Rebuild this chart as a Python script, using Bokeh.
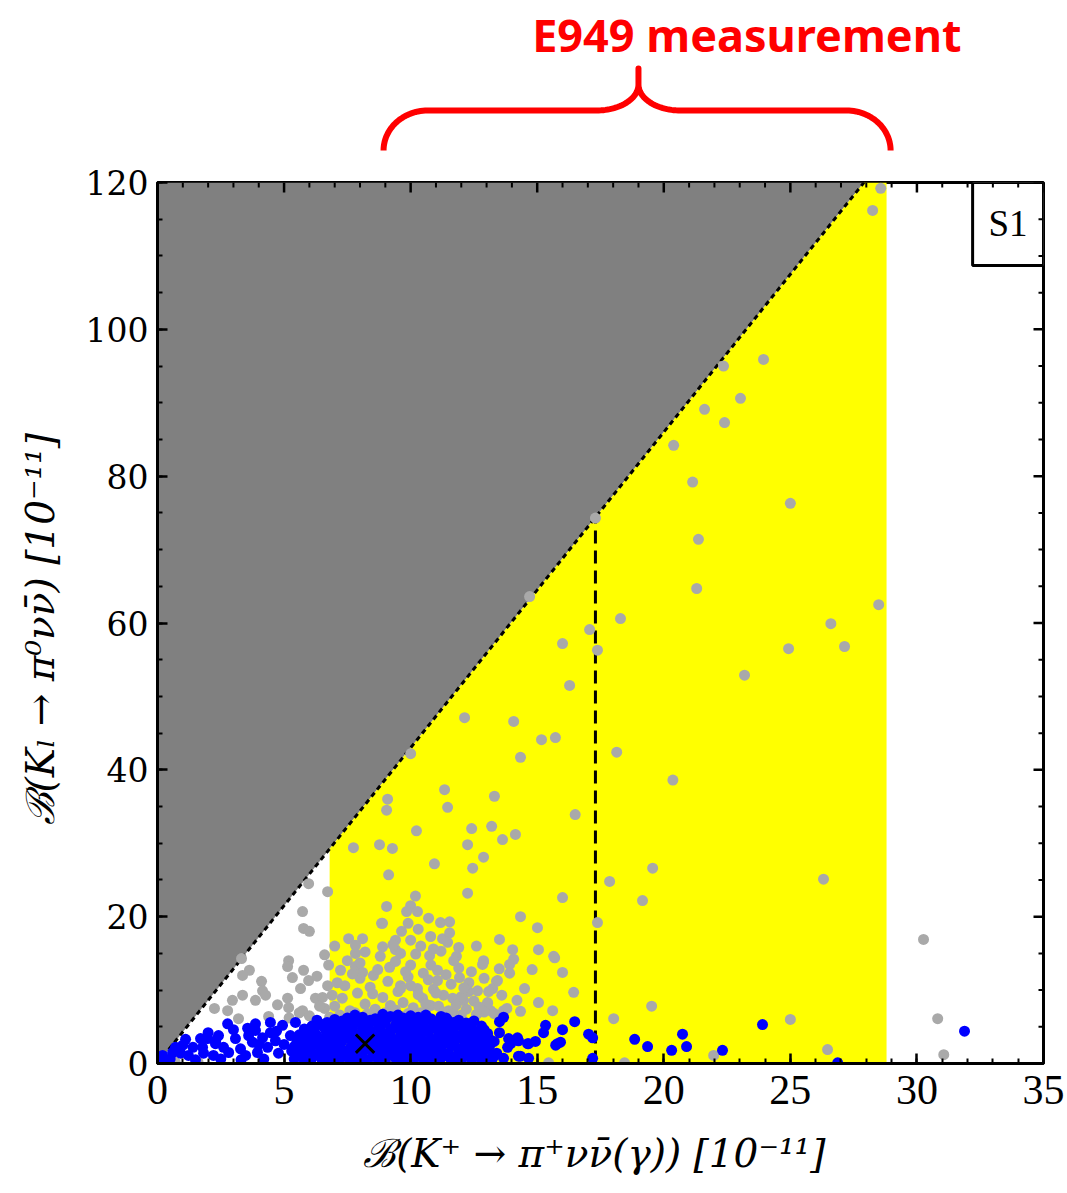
import numpy as np
from bokeh.plotting import figure
from bokeh.layouts import column
from bokeh.models import Range1d, FixedTicker
from bokeh.core.properties import value
from bokeh.embed import file_html
from bokeh.resources import INLINE

# ---------------- data ----------------
gn_slope = 4.3                 # Grossman-Nir bound  B(KL) < 4.3 B(K+)
e949 = [6.8, 17.3, 28.8]       # lower, central, upper  [1e-11]
sm_point = [8.2, 2.7]
x_ticks = [0, 5, 10, 15, 20, 25, 30, 35]
y_ticks = [0, 20, 40, 60, 80, 100, 120]

gray_upper = [
    (28.57, 119.2), (28.25, 116.2), (23.94, 95.9), (22.36, 95.0), (23.03, 90.6),
    (21.61, 89.1), (22.40, 87.3), (20.39, 84.2), (21.14, 79.2), (25.0, 76.3),
    (21.37, 71.4), (21.30, 64.7), (28.49, 62.5), (26.6, 59.9), (24.93, 56.5),
    (27.14, 56.8), (23.19, 52.9), (18.29, 60.6), (17.07, 59.1), (16.0, 57.2),
    (17.38, 56.3), (16.28, 51.5), (17.3, 74.3), (14.7, 63.6), (12.13, 47.1),
    (14.07, 46.6), (15.17, 44.1), (15.72, 44.4), (14.34, 41.7), (10.0, 42.2),
    (18.14, 42.4), (20.36, 38.6), (11.34, 37.3), (13.31, 36.4), (9.09, 36.0),
    (11.46, 34.9), (9.05, 34.5), (16.5, 33.9), (10.23, 31.7), (12.41, 32.0),
    (13.2, 32.3), (13.63, 30.5), (14.14, 31.2), (7.74, 29.4), (8.77, 29.8),
    (9.28, 29.3), (12.25, 29.8), (12.88, 28.1), (10.94, 27.2), (9.13, 25.7),
    (12.45, 26.6), (19.56, 26.6), (17.86, 24.8), (26.31, 25.1), (19.16, 22.2),
    (16.0, 22.6), (14.34, 20.0), (15.01, 18.5), (17.38, 19.2), (30.26, 16.9),
    (30.82, 6.1), (31.06, 1.2), (25.0, 6.0), (26.47, 1.9), (21.97, 1.1),
    (19.52, 7.8), (18.02, 6.1), (18.45, 0.1), (15.45, 0.1),
]

gray_mid = [
    (13.51, 16.9), (14.03, 15.5), (15.05, 15.5), (15.69, 14.4), (14.07, 14.2),
    (12.88, 13.8), (13.91, 13.5), (13.91, 12.3), (16.0, 12.4), (16.44, 9.7),
    (15.05, 8.3), (14.34, 7.1), (15.61, 7.2), (13.39, 11.2), (13.24, 10.2),
    (13.04, 8.2), (10.19, 22.8), (12.25, 23.2), (9.05, 21.4), (10.0, 21.5),
    (9.84, 20.7), (10.27, 20.7), (10.71, 19.8), (8.89, 19.1), (11.18, 19.2),
    (11.54, 19.3), (9.64, 18.0), (10.79, 17.3), (11.26, 17.0), (11.54, 17.8),
    (10.0, 16.8), (9.4, 16.8), (11.46, 16.5), (9.4, 15.5), (8.89, 15.9),
    (10.75, 14.7), (11.81, 14.6), (12.88, 14.0), (15.65, 14.6), (12.84, 13.5),
    (11.06, 12.7), (10.0, 13.4), (9.17, 13.1), (11.93, 11.7), (13.43, 11.3),
    (11.06, 11.3), (10.27, 10.2), (10.47, 8.9), (9.6, 10.6), (12.64, 9.9),
    (12.29, 9.8), (13.08, 9.8), (11.66, 8.9), (12.09, 8.6), (13.04, 8.3),
    (13.16, 7.2), (13.67, 7.2), (11.5, 7.2), (10.79, 7.9),
]

gray_white = [
    (5.97, 24.5), (6.72, 23.4), (5.73, 20.7), (5.77, 18.4), (6.0, 18.0),
    (7.55, 17.0), (8.1, 17.0), (8.85, 19.1), (7.82, 16.1), (7.82, 15.0),
    (5.18, 14.0), (5.14, 13.2), (3.63, 12.7), (3.36, 12.0), (5.77, 12.7),
    (6.76, 13.4), (7.23, 12.7), (7.82, 13.2), (8.1, 12.4), (8.53, 12.0),
    (5.33, 11.7), (5.97, 11.3), (4.11, 11.2), (6.72, 10.6), (4.15, 9.9),
    (5.65, 10.2), (3.36, 9.3), (4.27, 9.3), (2.96, 8.6), (5.14, 8.9),
    (6.24, 8.9), (6.52, 9.0), (3.87, 8.6), (4.74, 8.0), (5.18, 7.6),
    (5.73, 7.2), (2.25, 7.5), (2.77, 7.2), (3.2, 6.1), (4.39, 6.4),
    (3.32, 14.3), (0.7, 0.2), (1.6, 0.2), (5.9, 0.3), (12.3, 0.2),
]

gray_band = [
    (7.0, 7.8), (7.3, 8.9), (7.6, 7.2), (7.9, 9.6), (8.2, 8.1), (8.4, 10.4),
    (8.6, 7.4), (8.9, 9.0), (9.1, 11.2), (9.2, 7.9), (9.5, 9.8), (9.7, 8.3),
    (9.9, 11.8), (10.1, 7.6), (10.3, 9.4), (10.5, 12.3), (10.6, 8.1), (10.9, 10.1),
    (11.1, 7.8), (11.3, 9.3), (11.6, 10.8), (11.8, 8.0), (12.0, 9.1), (12.2, 7.4),
    (12.5, 8.5), (12.7, 7.7), (7.4, 10.6), (8.0, 11.6), (8.7, 12.8), (9.4, 13.9),
    (9.8, 12.5), (10.2, 14.9), (10.8, 13.4), (11.4, 12.1), (11.9, 13.0), (12.3, 11.0),
    (6.9, 9.3), (6.6, 7.5), (8.3, 6.8), (9.0, 6.9), (10.4, 6.9), (11.7, 6.8),
    (12.9, 7.0), (7.7, 12.2), (8.8, 14.6), (9.3, 16.2), (10.0, 10.6), (10.7, 11.4),
    (11.2, 15.3), (8.5, 9.5), (9.6, 10.2), (11.0, 9.6), (12.1, 10.3),
    (5.2, 6.2), (5.6, 6.9), (6.0, 6.5), (6.4, 7.8), (6.8, 6.3), (7.2, 6.6),
    (7.8, 6.9), (8.6, 6.6), (9.4, 7.3), (9.9, 6.8), (10.6, 6.7), (11.3, 7.0),
    (12.0, 6.6), (12.6, 6.7), (13.3, 6.8), (13.8, 7.5), (14.2, 8.6), (13.6, 9.3),
    (7.1, 11.0), (6.3, 11.9), (7.5, 14.0), (8.2, 15.2), (8.0, 13.7), (9.6, 15.0),
    (10.4, 16.0), (10.9, 15.6), (11.7, 14.0), (12.4, 12.5), (12.9, 11.6), (13.5, 12.9),
    (14.5, 10.2), (14.8, 12.8), (10.3, 18.3), (9.9, 19.1), (11.9, 15.8), (12.6, 16.0),
    (7.0, 16.0), (6.6, 14.8),
]

blue_core = [
    (5.4, 0.6), (5.8, 0.4), (6.1, 0.7), (6.5, 0.5), (6.9, 0.3), (7.2, 0.6), (7.6, 0.5),
    (7.9, 0.8), (8.3, 0.4), (8.7, 0.6), (9.0, 0.3), (9.4, 0.7), (9.8, 0.5), (10.1, 0.4),
    (10.5, 0.6), (10.9, 0.3), (11.2, 0.7), (11.6, 0.5), (12.0, 0.4), (12.4, 0.6),
    (12.8, 0.5), (13.2, 0.4),
    (5.5, 1.1), (5.9, 1.0), (6.3, 1.2), (6.7, 0.9), (7.0, 1.1), (7.4, 1.0), (7.8, 1.2),
    (8.1, 0.9), (8.5, 1.1), (8.8, 1.0), (9.2, 1.2), (9.6, 0.9), (9.9, 1.1), (10.3, 1.0),
    (10.7, 1.2), (11.0, 0.9), (11.4, 1.1), (11.8, 1.0), (12.1, 1.2), (12.5, 0.9),
    (12.9, 1.1), (13.3, 1.0),
    (5.3, 1.7), (5.7, 1.5), (6.0, 1.9), (6.4, 1.4), (6.8, 1.8), (7.1, 1.5), (7.5, 1.7),
    (7.8, 1.4), (8.2, 1.9), (8.6, 1.6), (8.9, 1.3), (9.3, 1.8), (9.7, 1.6), (10.0, 1.4),
    (10.4, 1.9), (10.8, 1.5), (11.1, 1.7), (11.5, 1.4), (11.9, 1.8), (12.3, 1.6),
    (12.7, 1.5), (13.0, 1.9), (13.4, 1.4),
    (5.4, 2.3), (5.8, 2.1), (6.1, 2.4), (6.5, 2.0), (6.9, 2.2), (7.2, 2.3), (7.6, 2.1),
    (8.0, 2.4), (8.3, 2.0), (8.7, 2.2), (9.0, 2.3), (9.4, 2.1), (9.8, 2.4), (10.1, 2.0),
    (10.5, 2.2), (10.9, 2.3), (11.2, 2.1), (11.6, 2.4), (12.0, 2.0), (12.4, 2.2),
    (12.8, 2.3), (13.1, 2.1),
    (5.5, 2.8), (5.9, 3.0), (6.2, 2.6), (6.6, 2.9), (7.0, 2.7), (7.3, 3.1), (7.7, 2.6),
    (8.0, 3.0), (8.4, 2.7), (8.8, 3.1), (9.1, 2.6), (9.5, 2.9), (9.9, 2.7), (10.2, 3.1),
    (10.6, 2.8), (11.0, 2.6), (11.3, 3.0), (11.7, 2.7), (12.1, 3.1), (12.5, 2.8),
    (12.9, 2.6), (13.3, 3.0),
    (5.7, 3.4), (6.0, 3.5), (6.4, 3.3), (6.8, 3.6), (7.2, 3.4), (7.5, 3.5), (7.9, 3.3),
    (8.3, 3.6), (8.6, 3.4), (9.0, 3.5), (9.3, 3.3), (9.7, 3.6), (10.1, 3.4), (10.4, 3.5),
    (10.8, 3.3), (11.2, 3.6), (11.5, 3.4), (11.9, 3.5), (12.3, 3.3), (12.7, 3.6), (13.1, 3.4),
    (5.6, 3.9), (6.0, 4.2), (6.3, 3.8), (6.7, 4.1), (7.1, 3.9), (7.4, 4.3), (7.8, 4.0),
    (8.1, 4.2), (8.5, 3.8), (8.9, 4.1), (9.2, 4.3), (9.6, 3.9), (10.0, 4.2), (10.3, 4.0),
    (10.7, 4.3), (11.1, 3.9), (11.4, 4.1), (11.8, 3.8), (12.2, 4.2), (12.6, 4.0), (13.0, 3.8),
    (5.8, 4.7), (6.2, 4.6), (6.6, 4.8), (6.9, 4.5), (7.3, 4.7), (7.7, 4.6), (8.1, 4.8),
    (8.4, 4.5), (8.8, 4.7), (9.2, 4.6), (9.5, 4.8), (9.9, 4.5), (10.3, 4.7), (10.6, 4.6),
    (11.0, 4.8), (11.4, 4.5), (11.7, 4.7), (12.1, 4.6), (12.5, 4.4), (12.9, 4.6),
    (6.1, 5.1), (6.5, 5.3), (6.9, 5.0), (7.2, 5.4), (7.6, 5.2), (8.0, 5.5), (8.3, 5.1),
    (8.7, 5.4), (9.0, 5.6), (9.4, 5.2), (9.8, 5.5), (10.1, 5.3), (10.5, 5.6), (10.9, 5.2),
    (11.2, 5.4), (11.6, 5.0), (12.0, 5.3), (12.4, 4.9), (12.8, 5.1),
    (6.7, 5.6), (7.3, 5.8), (7.8, 5.7), (8.4, 5.9), (8.9, 5.8), (9.5, 5.9), (10.0, 5.8),
    (10.6, 5.9), (11.1, 5.7), (11.7, 5.6), (12.2, 5.5),
    (7.0, 6.0), (7.5, 6.2), (8.1, 6.3), (8.6, 6.1), (9.2, 6.4), (9.7, 6.2), (10.3, 6.3),
    (10.8, 6.1), (11.4, 6.2), (11.9, 5.9), (6.3, 5.9), (12.5, 5.8),
    (7.8, 6.6), (8.9, 6.7), (9.5, 6.6), (10.0, 6.5), (10.6, 6.6), (11.2, 6.4),
]

blue_left = [
    (0.15, 0.5), (0.2, 1.1), (0.71, 2.2), (0.91, 1.4), (1.11, 3.3), (1.22, 1.1),
    (1.7, 3.4), (1.98, 3.4), (1.78, 2.2), (1.82, 1.4), (2.21, 1.1), (2.29, 2.7),
    (2.41, 3.8), (2.61, 2.2), (2.77, 5.4), (2.81, 1.5), (3.08, 3.4), (3.28, 2.0),
    (3.48, 1.1), (3.75, 2.9), (3.87, 4.5), (3.87, 5.4), (3.95, 1.5), (4.15, 3.5),
    (4.35, 2.2), (4.46, 4.2), (4.66, 3.1), (4.78, 1.4), (4.94, 5.2), (4.46, 5.6),
    (3.56, 4.8), (5.25, 3.8), (5.45, 5.6), (5.37, 1.8),
    (0.5, 0.6), (1.0, 2.5), (1.5, 0.5), (2.0, 4.2), (2.5, 0.6), (3.0, 4.6),
    (3.6, 3.8), (4.2, 0.6), (4.7, 4.4), (5.0, 2.6), (4.0, 2.6), (3.3, 0.5),
    (2.3, 3.1), (1.4, 2.2), (0.6, 1.5),
]

blue_right = [
    (13.67, 6.3), (13.51, 5.7), (13.51, 4.2), (13.04, 4.1), (13.87, 3.4), (14.22, 3.5),
    (14.26, 3.1), (14.66, 2.7), (14.93, 3.0), (15.33, 5.2), (15.25, 4.2), (16.0, 4.6),
    (15.92, 2.9), (15.73, 2.5), (16.48, 5.7), (17.03, 4.0), (17.19, 3.5), (13.04, 1.2),
    (13.67, 0.7), (14.34, 1.0), (14.66, 0.7), (17.19, 0.7), (18.85, 3.3), (19.36, 2.3),
    (20.74, 4.0), (20.9, 2.3), (20.31, 1.8), (22.32, 1.8), (23.9, 5.3), (26.87, 0.1),
    (31.88, 4.4), (11.46, 5.9), (11.97, 5.3), (12.37, 3.5), (12.29, 2.2), (12.88, 4.1),
    (13.16, 2.7), (13.95, 2.7), (13.83, 2.2), (14.26, 1.0), (14.62, 2.7), (15.8, 2.7),
]

# annotation (brace above the plot, in x data units)
brace_ends = [8.93, 19.0, 28.96]   # left end, cusp, right end

# ---------------- helpers ----------------
def unzip(*groups):
    xs, ys = [], []
    for g in groups:
        for a, b in g:
            xs.append(a)
            ys.append(b)
    return xs, ys

gx, gy = unzip(gray_upper, gray_mid, gray_white, gray_band)
bx, by = unzip(blue_core, blue_left, blue_right)

GRAY_PT = "#a9a9a9"
BLUE = "#0000ff"
X0, X1, Y0, Y1 = 0, 35, 0, 120
FRAME_W, FRAME_H = 886, 881
px_x = FRAME_W / (X1 - X0)
px_y = FRAME_H / (Y1 - Y0)
XR = Range1d(X0, X1)

# ---------------- top (brace + label) ----------------
top = figure(width=1067, height=152, x_range=XR, y_range=Range1d(152, 0),
             output_backend="svg", toolbar_location=None,
             x_axis_location=None, y_axis_location=None,
             min_border_left=157, min_border_right=24, min_border_top=0, min_border_bottom=0)
top.grid.visible = False
top.outline_line_color = None
top.background_fill_color = None
top.border_fill_color = "white"

L, M, R = brace_ends
rx_end, ry_end = 44 / px_x, 40
rx_mid, ry_mid = 42 / px_x, 26
y_end, y_bar, y_cusp, y_tip = 150, 110, 84, 68

def arc(cx, cy, rx, ry, t0, t1, n=30):
    t = np.linspace(t0, t1, n)
    return list(cx + rx * np.cos(t)), list(cy - ry * np.sin(t))

xs, ys = [], []
a = arc(L + rx_end, y_end, rx_end, ry_end, np.pi, np.pi / 2); xs += a[0]; ys += a[1]
a = arc(M - rx_mid, y_cusp, rx_mid, ry_mid, -np.pi / 2, 0); xs += a[0]; ys += a[1]
xs += [M, M]; ys += [y_tip, y_cusp]
a = arc(M + rx_mid, y_cusp, rx_mid, ry_mid, np.pi, 1.5 * np.pi); xs += a[0]; ys += a[1]
a = arc(R - rx_end, y_end, rx_end, ry_end, np.pi / 2, 0); xs += a[0]; ys += a[1]
top.line(xs, ys, line_color="red", line_width=6, line_join="round")

top.text(x=[14.8], y=[34], text=["E949 measurement"], text_color="red",
         text_font=value("Noto Sans"), text_font_style="bold",
         text_font_size="45px", text_baseline="alphabetic", text_align="left")

# ---------------- main plot ----------------
p = figure(width=1067, height=1041, x_range=XR, y_range=Range1d(Y0, Y1),
           output_backend="svg", toolbar_location=None,
           min_border_left=157, min_border_right=24, min_border_top=30, min_border_bottom=130)
p.grid.visible = False
p.outline_line_color = "black"
p.outline_line_width = 3
p.background_fill_color = "white"

gn_top = Y1 / gn_slope
lo, cen, hi = e949
p.patch([X0, X0, gn_top], [Y0, Y1, Y1], fill_color="#808080", line_color=None)
p.patch([lo, lo, gn_top, hi, hi], [Y0, gn_slope * lo, Y1, Y1, Y0],
        fill_color="#ffff00", line_color=None)
p.line([X0, gn_top], [Y0, Y1], line_color="black", line_width=3, line_dash="5 4")
p.line([cen, cen], [Y0, gn_slope * cen], line_color="black", line_width=3, line_dash="13 7")

p.scatter(gx, gy, size=11, fill_color=GRAY_PT, line_color=None)
p.scatter(bx, by, size=11, fill_color=BLUE, line_color=None)
p.scatter([sm_point[0]], [sm_point[1]], marker="x", size=26, line_color="black", line_width=3)

# S1 box
p.quad(left=[32.2], right=[X1], bottom=[108.7], top=[Y1], fill_color="white",
       line_color="black", line_width=3)
p.text(x=[33.6], y=[114.4], text=["S1"], text_font=value("Liberation Serif"),
       text_font_size="37px", text_align="center", text_baseline="middle", text_color="black")

# mirrored inward ticks on top and right edges
minor_x = [v for v in range(X0, X1 + 1) if v not in x_ticks]
minor_y = [v for v in range(Y0, Y1 + 1, 5) if v not in y_ticks]
MAJ, MIN = 10, 5
p.segment(x0=x_ticks, y0=[Y1] * len(x_ticks), x1=x_ticks, y1=[Y1 - MAJ / px_y] * len(x_ticks),
          line_color="black", line_width=2.5)
p.segment(x0=minor_x, y0=[Y1] * len(minor_x), x1=minor_x, y1=[Y1 - MIN / px_y] * len(minor_x),
          line_color="black", line_width=2)
p.segment(x0=[X1] * len(y_ticks), y0=y_ticks, x1=[X1 - MAJ / px_x] * len(y_ticks), y1=y_ticks,
          line_color="black", line_width=2.5)
p.segment(x0=[X1] * len(minor_y), y0=minor_y, x1=[X1 - MIN / px_x] * len(minor_y), y1=minor_y,
          line_color="black", line_width=2)

# axes
xa = p.xaxis[0]
ya = p.yaxis[0]
xa.ticker = FixedTicker(ticks=x_ticks, minor_ticks=list(range(X0, X1 + 1)))
ya.ticker = FixedTicker(ticks=y_ticks, minor_ticks=list(range(Y0, Y1 + 1, 5)))
for ax in (xa, ya):
    ax.axis_line_width = 3
    ax.axis_line_color = "black"
    ax.major_tick_in = MAJ
    ax.major_tick_out = 0
    ax.minor_tick_in = MIN
    ax.minor_tick_out = 0
    ax.major_tick_line_width = 2.5
    ax.minor_tick_line_width = 2
    ax.major_label_text_color = "black"

xa.major_label_text_font = "Liberation Serif"
xa.major_label_text_font_size = "42px"
xa.major_label_standoff = 12
ya.major_label_text_font = "DejaVu Serif"
ya.major_label_text_font_size = "33px"
ya.major_label_standoff = 9

xa.axis_label = "ℬ(K⁺ → π⁺νν̄(γ))  [10⁻¹¹]"
ya.axis_label = "ℬ(Kₗ → π⁰νν̄)  [10⁻¹¹]"
for ax in (xa, ya):
    ax.axis_label_text_font = "DejaVu Serif"
    ax.axis_label_text_font_style = "italic"
    ax.axis_label_text_font_size = "39px"
    ax.axis_label_text_color = "black"
xa.axis_label_standoff = 24
ya.axis_label_standoff = 20

layout = column(top, p, spacing=0)
open("out.html", "w").write(file_html(layout, INLINE))
